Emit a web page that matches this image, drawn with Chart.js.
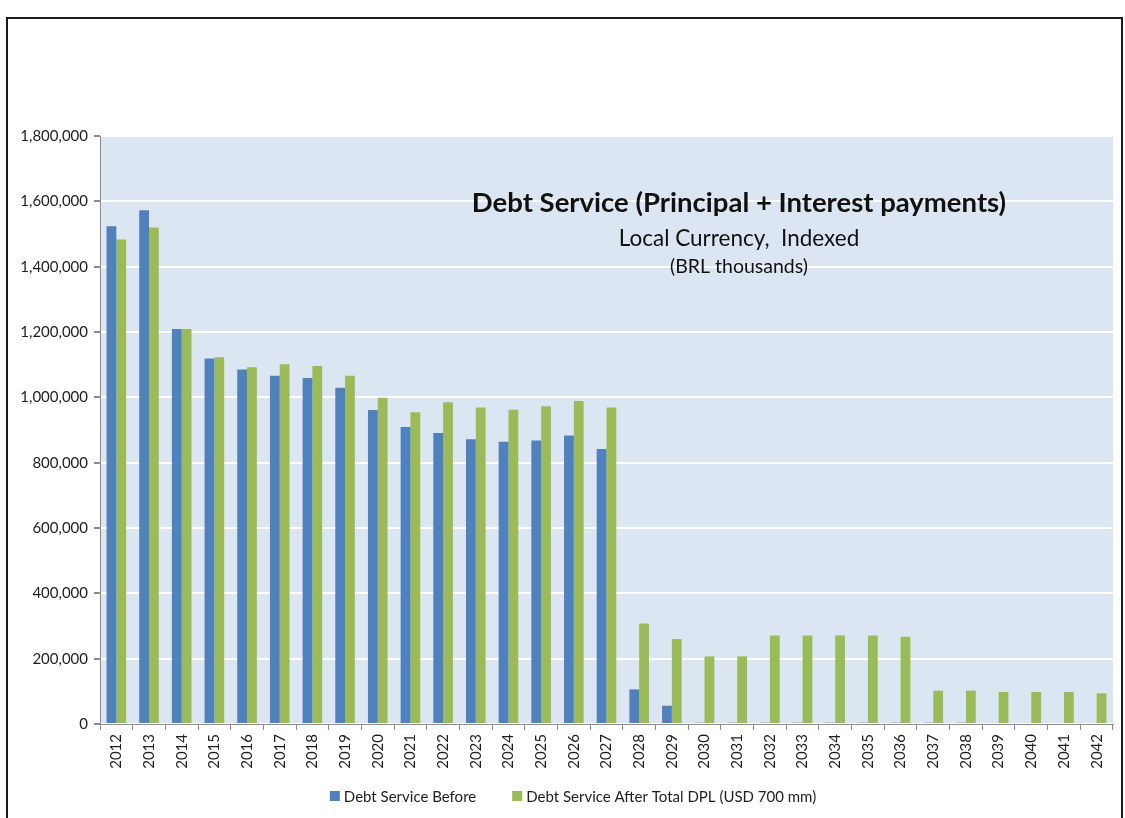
<!DOCTYPE html>
<html>
<head>
<meta charset="utf-8">
<script src="https://cdn.jsdelivr.net/npm/chart.js@4"></script>
<style>
  html, body { margin: 0; padding: 0; background: #fff; }
  #wrap { position: relative; width: 1125px; height: 818px; overflow: hidden; }
  #frame { position: absolute; left: 6px; top: 17px; width: 1113px; height: 830px; border: 2px solid #1a1a1a; }
  #debtChart { position: absolute; left: 0; top: 0; }
</style>
</head>
<body>
<div id="wrap">
  <div id="frame"></div>
  <canvas id="debtChart" width="1125" height="818"></canvas>
</div>
<script>
// Debt service profile, BRL thousands
const years = ['2012','2013','2014','2015','2016','2017','2018','2019','2020','2021',
  '2022','2023','2024','2025','2026','2027','2028','2029','2030','2031',
  '2032','2033','2034','2035','2036','2037','2038','2039','2040','2041','2042'];

const serviceBefore = [1524000, 1573000, 1209000, 1119000, 1085000, 1066000, 1059000, 1029000, 961000, 909000,
  891000, 872000, 864000, 868000, 883000, 842000, 106000, 56000, 4000, 4000,
  4000, 4000, 4000, 4000, 4000, 4000, 4000, 0, 0, 0, 0];

const serviceAfter = [1483000, 1520000, 1209000, 1123000, 1092000, 1101000, 1096000, 1066000, 999000, 954000,
  985000, 969000, 962000, 973000, 989000, 969000, 308000, 260000, 207000, 207000,
  271000, 271000, 271000, 271000, 267000, 102000, 102000, 98000, 98000, 98000, 94000];

const yTicks = [0, 200000, 400000, 600000, 800000, 1000000, 1200000, 1400000, 1600000, 1800000];

const titleLines = [
  { text: 'Debt Service (Principal + Interest payments)', font: 'bold 27.5px Lato', y: 203 },
  { text: 'Local Currency,  Indexed', font: '22.5px Lato', y: 239 },
  { text: '(BRL thousands)', font: '19.5px Lato', y: 267 }
];

const FONT = 'Lato, "Open Sans", sans-serif';
const INK = '#1e1e1e';

// light blue fill behind the bars
const plotBg = {
  id: 'plotBg',
  beforeDraw(chart) {
    const a = chart.chartArea, c = chart.ctx;
    c.save();
    c.fillStyle = '#dce6f2';
    c.fillRect(a.left, a.top, a.right - a.left, a.bottom - a.top);
    c.restore();
  }
};

// heading block sits inside the plot
const innerTitle = {
  id: 'innerTitle',
  afterDraw(chart) {
    const c = chart.ctx;
    c.save();
    c.fillStyle = '#111';
    c.textAlign = 'center';
    c.textBaseline = 'middle';
    titleLines.forEach(l => {
      c.font = l.font;
      c.fillText(l.text, 739, l.y);
    });
    c.restore();
  }
};

// legend row under the year labels, wider gap between the two entries
const bottomLegend = {
  id: 'bottomLegend',
  afterDraw(chart) {
    const c = chart.ctx;
    const sets = chart.data.datasets;
    const box = 10, gapText = 4, gapItem = 36, y = 796;
    c.save();
    c.font = '15px ' + FONT;
    c.textBaseline = 'middle';
    const widths = sets.map(d => box + gapText + c.measureText(d.label).width);
    const total = widths.reduce((s, w) => s + w, 0) + gapItem * (sets.length - 1);
    let x = 573 - total / 2;
    sets.forEach((d, i) => {
      c.fillStyle = d.backgroundColor;
      c.fillRect(x, y - box / 2, box, box);
      c.fillStyle = INK;
      c.fillText(d.label, x + box + gapText, y + 1);
      x += widths[i] + gapItem;
    });
    c.restore();
  }
};

new Chart(document.getElementById('debtChart'), {
  type: 'bar',
  data: {
    labels: years,
    datasets: [
      {
        label: 'Debt Service Before',
        data: serviceBefore,
        backgroundColor: '#4f81bd'
      },
      {
        label: 'Debt Service After Total DPL (USD 700 mm)',
        data: serviceAfter,
        backgroundColor: '#9bbb59'
      }
    ]
  },
  plugins: [plotBg, innerTitle, bottomLegend],
  options: {
    responsive: false,
    animation: false,
    datasets: {
      bar: { categoryPercentage: 0.6, barPercentage: 1.0 }
    },
    layout: { padding: { left: 0, right: 12, top: 136, bottom: 38 } },
    plugins: {
      legend: { display: false },
      tooltip: { enabled: false }
    },
    scales: {
      x: {
        grid: { drawOnChartArea: false, color: '#8c8c8c', tickLength: 6 },
        border: { color: '#8c8c8c' },
        ticks: {
          color: INK,
          maxRotation: 90,
          minRotation: 90,
          padding: 4,
          font: { family: FONT, size: 15 }
        },
        afterFit(scale) { scale.height = 56; }
      },
      y: {
        min: 0,
        max: 1800000,
        afterBuildTicks(scale) { scale.ticks = yTicks.map(v => ({ value: v })); },
        grid: { color: '#ffffff', lineWidth: 2, tickColor: '#8c8c8c', tickLength: 6 },
        border: { color: '#8c8c8c' },
        ticks: {
          color: INK,
          padding: 6,
          font: { family: FONT, size: 15 },
          callback: v => v.toLocaleString('en-US')
        },
        afterFit(scale) { scale.width = 100; }
      }
    }
  }
});
</script>
</body>
</html>
